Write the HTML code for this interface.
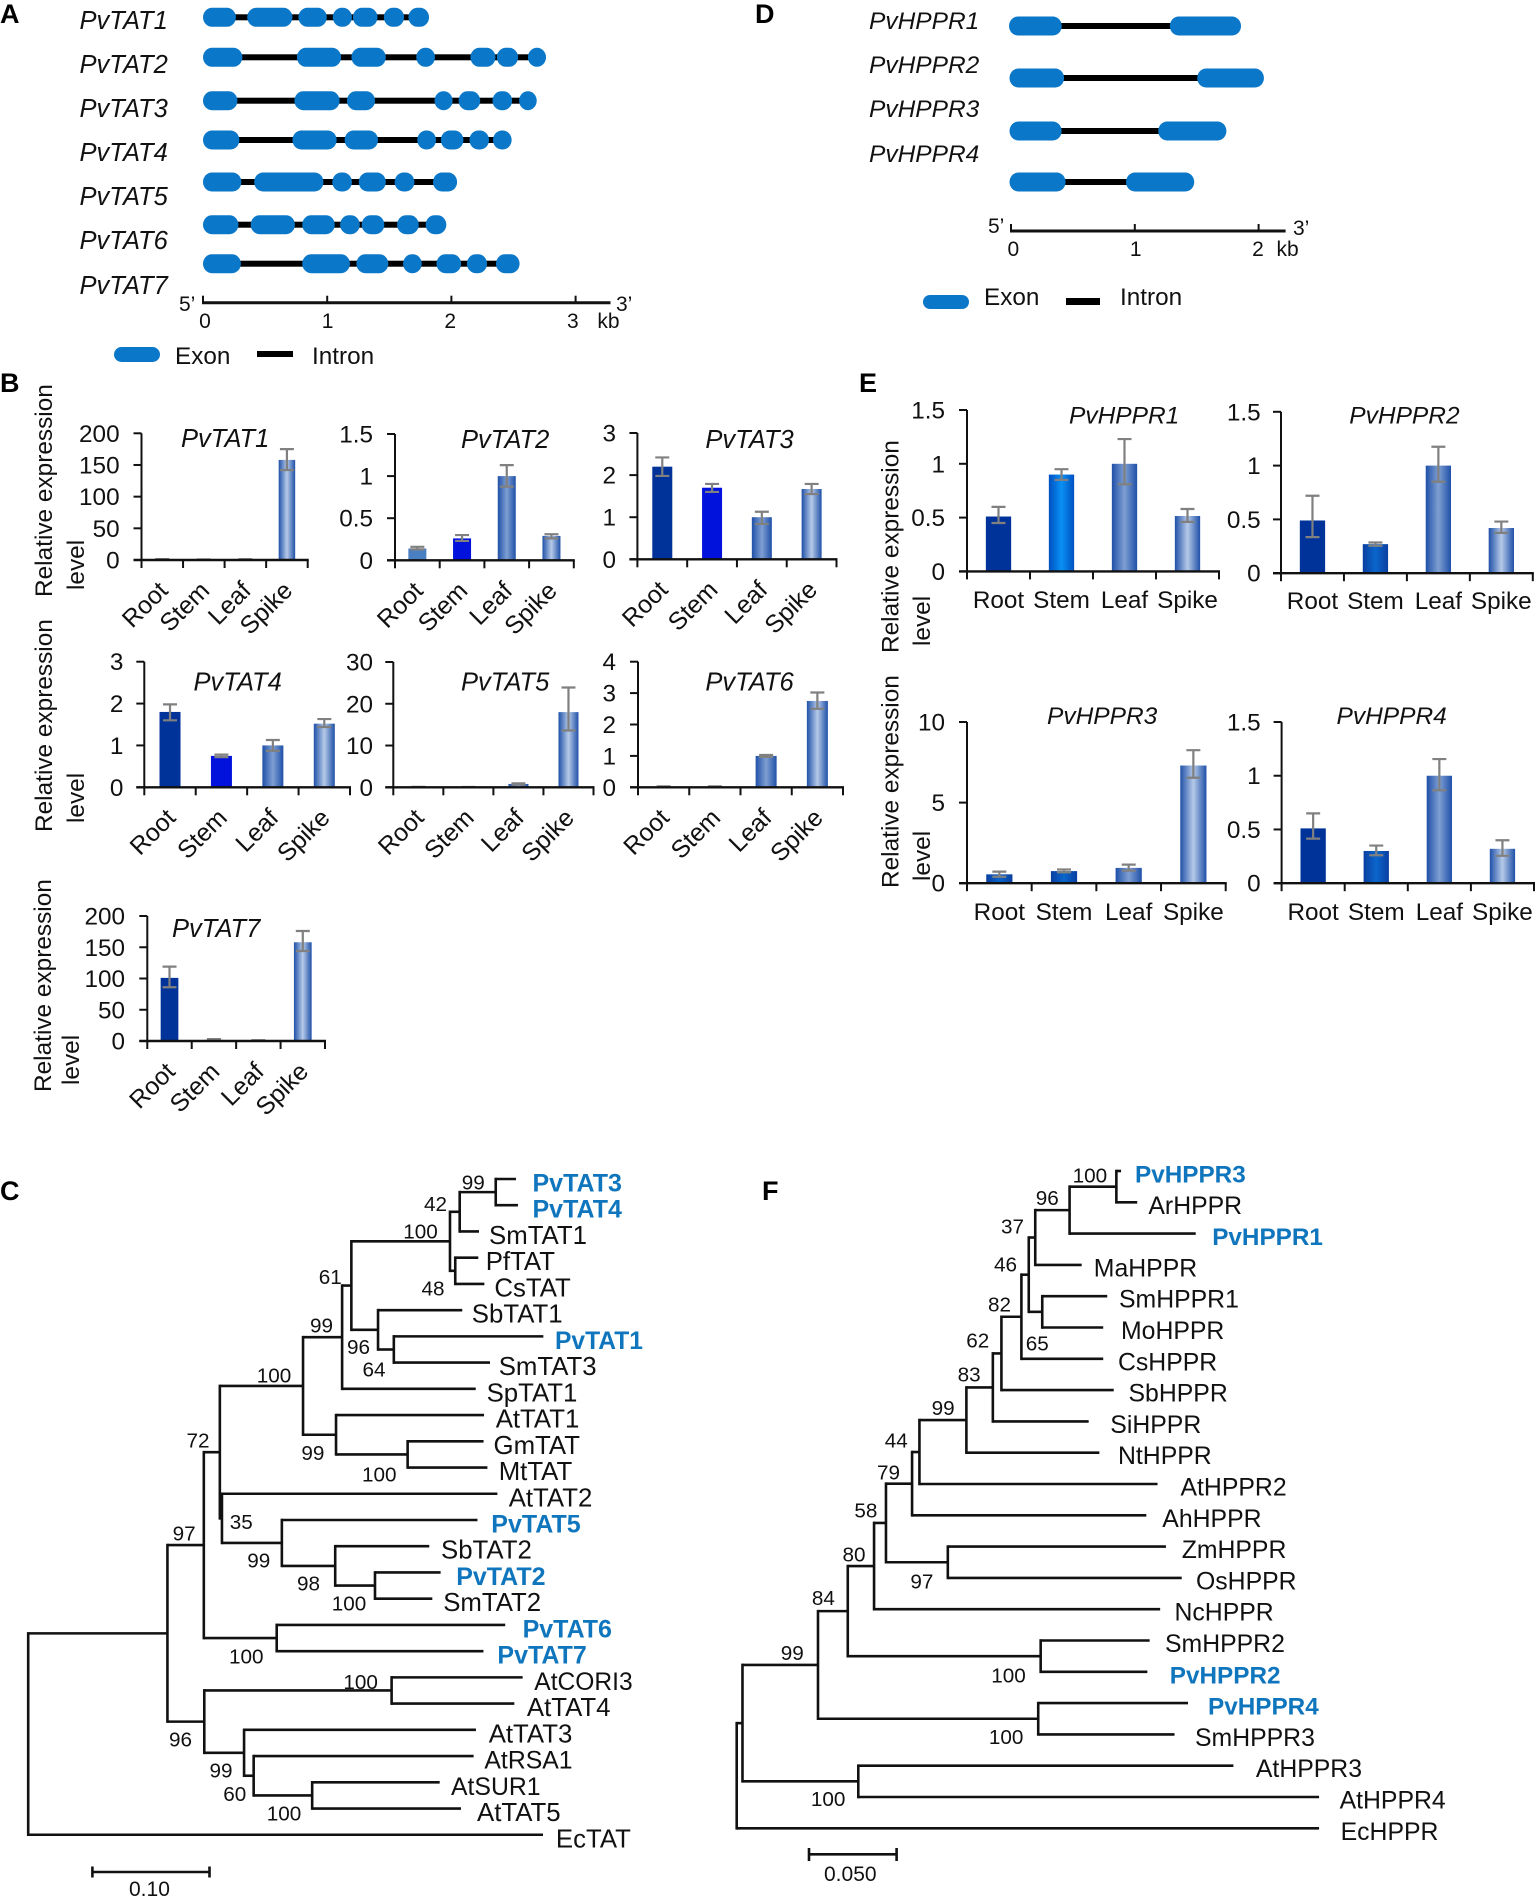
<!DOCTYPE html>
<html lang="en">
<head>
<meta charset="utf-8">
<title>PvTAT and PvHPPR gene structure, expression and phylogeny</title>
<style>
html,body{margin:0;padding:0;background:#fff;}
svg{display:block;position:absolute;left:0;top:0;}
text{font-family:"Liberation Sans",Arial,sans-serif;fill:#111;}
.letter{font-size:27px;font-weight:bold;fill:#000;}
.gene{font-size:25.5px;font-style:italic;}
.gene-h{font-size:24.5px;font-style:italic;}
.lab{font-size:24.3px;}
.ytitle{font-size:24.4px;}
.rotlab{font-size:24.8px;}
.small{font-size:21px;}
.sup{font-size:20.7px;}
</style>
</head>
<body>
<svg id="figure" xmlns="http://www.w3.org/2000/svg" width="1535" height="1897" viewBox="0 0 1535 1897">
<defs>
<linearGradient id="gradMid" x1="0" x2="1" y1="0" y2="0"><stop offset="0" stop-color="#1f50a8"/><stop offset=".5" stop-color="#7f9fd2"/><stop offset="1" stop-color="#1f50a8"/></linearGradient>
<linearGradient id="gradLight" x1="0" x2="1" y1="0" y2="0"><stop offset="0" stop-color="#1f50a8"/><stop offset=".5" stop-color="#b6cae8"/><stop offset="1" stop-color="#1f50a8"/></linearGradient>
<linearGradient id="gradAzure" x1="0" x2="1" y1="0" y2="0"><stop offset="0" stop-color="#0050c0"/><stop offset=".5" stop-color="#0a90f4"/><stop offset="1" stop-color="#0050c0"/></linearGradient>
<linearGradient id="gradRoyal" x1="0" x2="1" y1="0" y2="0"><stop offset="0" stop-color="#0a3fa0"/><stop offset=".5" stop-color="#0a66cc"/><stop offset="1" stop-color="#0a3fa0"/></linearGradient>
</defs>
<g>
<text class="letter" x="0" y="23">A</text>
<text class="letter" x="755" y="23">D</text>
<text class="letter" x="0" y="392">B</text>
<text class="letter" x="859" y="392">E</text>
<text class="letter" x="0" y="1200">C</text>
<text class="letter" x="762" y="1200">F</text>
</g>
<g>
<rect x="114" y="347" width="46" height="15" rx="7.5" fill="#0a77c8"/>
<text class="lab" x="175" y="364">Exon</text>
<rect x="257" y="351" width="36" height="6" fill="#000"/>
<text class="lab" x="312" y="364">Intron</text>
</g>
<g>
<rect x="923" y="295" width="46" height="14" rx="7" fill="#0a77c8"/>
<text class="lab" x="984" y="305">Exon</text>
<rect x="1066" y="298" width="34" height="7" fill="#000"/>
<text class="lab" x="1120" y="305">Intron</text>
</g>
<g>
<text class="ytitle" transform="translate(52,597) rotate(-90)">Relative expression</text>
<text class="ytitle" transform="translate(84,590) rotate(-90)">level</text>
<text class="ytitle" transform="translate(52,832) rotate(-90)">Relative expression</text>
<text class="ytitle" transform="translate(84,823) rotate(-90)">level</text>
<text class="ytitle" transform="translate(51,1092) rotate(-90)">Relative expression</text>
<text class="ytitle" transform="translate(79,1085) rotate(-90)">level</text>
<text class="ytitle" transform="translate(898.5,653) rotate(-90)">Relative expression</text>
<text class="ytitle" transform="translate(930,646) rotate(-90)">level</text>
<text class="ytitle" transform="translate(898.5,888) rotate(-90)">Relative expression</text>
<text class="ytitle" transform="translate(930,881) rotate(-90)">level</text>
</g>
<g>
<path d="M92.4 1872H209.5M92.4 1866.5V1877.5M209.5 1866.5V1877.5" stroke="#111" stroke-width="2.6" fill="none"/>
<text class="small" x="129" y="1896">0.10</text>
</g>
<g>
<path d="M809 1854.3H896.6M809 1848V1861M896.6 1848V1861" stroke="#111" stroke-width="2.6" fill="none"/>
<text class="small" x="824" y="1881">0.050</text>
</g>
</svg>
<script>
// ---------- Gene structure data (exon start / end in kb) ----------
const tatGeneNames = ['PvTAT1','PvTAT2','PvTAT3','PvTAT4','PvTAT5','PvTAT6','PvTAT7'];
const tatGeneExons = [
  [[0,.265],[.356,.72],[.768,.997],[1.045,1.199],[1.207,1.405],[1.456,1.619],[1.654,1.82]],
  [[0,.317],[.756,1.112],[1.195,1.472],[1.717,1.868],[2.153,2.355],[2.366,2.537],[2.616,2.762]],
  [[0,.277],[.736,1.1],[1.159,1.385],[1.864,2.01],[2.058,2.232],[2.331,2.489],[2.545,2.687]],
  [[0,.293],[.72,1.076],[1.14,1.409],[1.725,1.876],[1.915,2.097],[2.145,2.303],[2.335,2.485]],
  [[0,.309],[.412,.97],[1.041,1.199],[1.254,1.472],[1.543,1.702],[1.852,2.046]],
  [[0,.285],[.384,.74],[.799,1.061],[1.104,1.262],[1.278,1.46],[1.563,1.737],[1.793,1.959]],
  [[0,.305],[.799,1.183],[1.235,1.492],[1.611,1.761],[1.88,2.078],[2.125,2.287],[2.359,2.549]]
];
const tatScaleTicks = [0,1,2,3];
const hpprGeneNames = ['PvHPPR1','PvHPPR2','PvHPPR3','PvHPPR4'];
const hpprGeneExons = [
  [[-.016,.41],[1.283,1.858]],
  [[-.012,.429],[1.504,2.043]],
  [[-.012,.409],[1.189,1.74]],
  [[-.012,.441],[.929,1.48]]
];
const hpprScaleTicks = [0,1,2];

// ---------- Expression data ----------
const categories = ['Root','Stem','Leaf','Spike'];
const tat1Ticks = [200,150,100,50,0];
const tat1Values = [1,.5,.8,158];
const tat1High = [1.5,.8,1.2,175];
const tat1Low = [.5,.2,.4,142];
const tat2Ticks = [1.5,1,0.5,0];
const tat2Values = [.14,.26,1,.29];
const tat2High = [.16,.30,1.13,.31];
const tat2Low = [.13,.23,.875,.26];
const tat3Ticks = [3,2,1,0];
const tat3Values = [2.2,1.7,1,1.67];
const tat3High = [2.42,1.79,1.13,1.79];
const tat3Low = [1.98,1.6,.84,1.55];
const tat4Ticks = [3,2,1,0];
const tat4Values = [1.8,.75,1,1.52];
const tat4High = [1.98,.78,1.13,1.63];
const tat4Low = [1.6,.72,.87,1.44];
const tat5Ticks = [30,20,10,0];
const tat5Values = [.1,.05,.8,18];
const tat5High = [.12,.07,.95,23.9];
const tat5Low = [.08,.03,.65,13.6];
const tat6Ticks = [4,3,2,1,0];
const tat6Values = [.02,.02,1,2.75];
const tat6High = [.03,.03,1.03,3.02];
const tat6Low = [.01,.01,.97,2.5];
const tat7Ticks = [200,150,100,50,0];
const tat7Values = [101,2,.8,158];
const tat7High = [119,3,1.2,176];
const tat7Low = [86,1,.4,144];
const hppr1Ticks = [1.5,1,0.5,0];
const hppr1Values = [.51,.9,1,.515];
const hppr1High = [.6,.95,1.23,.58];
const hppr1Low = [.45,.85,.81,.46];
const hppr2Ticks = [1.5,1,0.5,0];
const hppr2Values = [.49,.27,1,.42];
const hppr2High = [.72,.285,1.175,.48];
const hppr2Low = [.335,.255,.85,.375];
const hppr3Ticks = [10,5,0];
const hppr3Values = [.55,.75,.95,7.3];
const hppr3High = [.72,.85,1.15,8.25];
const hppr3Low = [.4,.68,.78,6.54];
const hppr4Ticks = [1.5,1,0.5,0];
const hppr4Values = [.51,.3,1,.32];
const hppr4High = [.65,.35,1.155,.4];
const hppr4Low = [.415,.26,.865,.255];

// ---------- Phylogeny data: internal node = [distance, childA, childB], leaf = [name, distance] ----------
const treeC = [0,
  [.119,
    [.1501,
      [.1638,
        [.2349,
          [.2683,
            [.2762,
              [.3605,
                [.3688,[.3996,['PvTAT3',.4169],['PvTAT4',.4186]],['SmTAT1',.3853]],
                [.365,['PfTAT',.3847],['CsTAT',.3899]]],
              [.299,['SbTAT1',.371],[.3125,['PvTAT1',.4403],['SmTAT3',.3947]]]],
            ['SpTAT1',.3825]],
          [.2631,['AtTAT1',.3896],[.3243,['GmTAT',.3892],['MtTAT',.3925]]]],
        [.1656,['AtTAT2',.401],
          [.2168,['PvTAT5',.384],
            [.2624,['SbTAT2',.3428],[.2964,['PvTAT2',.3525],['SmTAT2',.3454]]]]]],
      [.2124,['PvTAT6',.4077],['PvTAT7',.3891]]],
    [.1505,
      [.3106,['AtCORI3',.4226],['AtTAT4',.4155]],
      [.1845,['AtTAT3',.3827],
        [.1927,['AtRSA1',.3807],[.2427,['AtSUR1',.3517],['AtTAT5',.3699]]]]]],
  ['EcTAT',.44]];
const treeF = [0,
  [.0033,
    [.0464,
      [.0634,
        [.0784,
          [.0852,
            [.1001,
              [.1043,
                [.1311,
                  [.1462,
                    [.1511,
                      [.1625,
                        [.1667,
                          [.1704,
                            [.19,[.2167,['PvHPPR3',.2194],['ArHPPR',.2286]],['PvHPPR1',.262]],
                            ['MaHPPR',.1969]],
                          [.1744,['SmHPPR1',.2115],['MoHPPR',.2092]]],
                        ['CsHPPR',.2092]],
                      ['SbHPPR',.2152]],
                    ['SiHPPR',.2009]],
                  ['NtHPPR',.207]],
                ['AtHPPR2',.2402]],
              ['AhHPPR',.2338]],
            [.1205,['ZmHPPR',.245],['OsHPPR',.254]]],
          ['NcHPPR',.2417]],
        [.1735,['SmHPPR2',.2357],['PvHPPR2',.2344]]],
      [.1721,['PvHPPR4',.2576],['SmHPPR3',.2499]]],
    [.0694,['AtHPPR3',.2835],['AtHPPR4',.3324]]],
  ['EcHPPR',.3324]];
const treeCSupport = ['99','42','100','48','61','99','96','64','100','72','99','100','35','97','99','98','100','100','100','96','99','60','100'];
const treeFSupport = ['100','96','37','46','82','65','62','83','99','44','79','58','97','80','84','99','100','100','100'];

// ---------- Layout (pixel geometry, no data) ----------
const svg = document.getElementById('figure');
const NS = 'http://www.w3.org/2000/svg';
const geneRowsTat = [17.3,57.3,100.7,140,182,224.7,263.7];
const geneLabelBaseTat = [29,73,117,161,205,249,294];
const geneRowsHppr = [26,78,131,182];
const geneLabelBaseHppr = [29,73,117,162];
const treeCLabelLeft = {PvTAT3:532.5,PvTAT4:532.5,SmTAT1:489,PfTAT:485.7,CsTAT:494.4,SbTAT1:471.8,PvTAT1:555,SmTAT3:498.7,SpTAT1:486.6,AtTAT1:495.7,GmTAT:493.5,MtTAT:498.7,AtTAT2:508.7,PvTAT5:491.3,SbTAT2:441,PvTAT2:456.2,SmTAT2:443.2,PvTAT6:522.6,PvTAT7:497.4,AtCORI3:534.3,AtTAT4:526.9,AtTAT3:488.7,AtRSA1:484.4,AtSUR1:451,AtTAT5:477,EcTAT:555.9};
const treeFLabelLeft = {PvHPPR3:1135,ArHPPR:1148.4,PvHPPR1:1212.2,MaHPPR:1093.8,SmHPPR1:1119,MoHPPR:1121,CsHPPR:1118,SbHPPR:1128.5,SiHPPR:1110.3,NtHPPR:1118,AtHPPR2:1180.5,AhHPPR:1162.3,ZmHPPR:1181.7,OsHPPR:1196,NcHPPR:1174.5,SmHPPR2:1165,PvHPPR2:1169.8,PvHPPR4:1208,SmHPPR3:1195,AtHPPR3:1255.9,AtHPPR4:1339.6,EcHPPR:1340.6};
const labelSizeOverride = {AtCORI3:24.6, AtRSA1:24.8, AtSUR1:24.8, PvTAT1:24.6};
const treeCSupportPos = [[461.8,1189.3],[424,1211],[403.3,1238.3],[421.5,1295.7],[318.7,1284],[310,1332.7],[347,1354],[362.5,1376.7],[256.7,1382.3],[186.5,1447.3],[301.4,1460],[362,1481.7],[229.8,1529],[172.6,1540.7],[247.2,1567.7],[297,1590.7],[331.7,1610.7],[229,1663.3],[343.4,1689],[169,1746.7],[209.5,1777.7],[223.3,1801],[266.7,1820.7]];
const treeFSupportPos = [[1072.6,1182.3],[1035.7,1205],[1001,1233.3],[994,1271.7],[988,1311.7],[1025.7,1350.7],[966.3,1347.7],[957.6,1381.7],[931.6,1415],[884.8,1447.7],[877,1479.3],[854.4,1517.7],[910.4,1588.3],[842.5,1561.7],[811.9,1605],[780.8,1660],[991.3,1682.3],[988.9,1744],[810.9,1806]];

function mk(tag, attrs, parent) {
  const el = document.createElementNS(NS, tag);
  for (const k in attrs) el.setAttribute(k, attrs[k]);
  parent.appendChild(el);
  return el;
}
function txt(content, attrs, parent) {
  const el = mk('text', attrs, parent);
  el.textContent = content;
  return el;
}

// ---------- Gene structure diagrams ----------
function drawGenes(names, exonSets, rows, labelBase, labelX, labelClass, x0, pxPerKb, axisY, axisEnd, ticks, tickLabelX, kbX, kbBase, fivePrime, threePrime, prefix) {
  const xKb = kb => x0 + kb * pxPerKb;
  const root = mk('g', {}, svg);
  
  
  names.forEach((name, i) => {
    const g = mk('g', {}, root);
    
    
    const label = txt(name, {class:labelClass, x:labelX, y:labelBase[i]}, g);
    
    
    const exons = exonSets[i];
    const intron = mk('rect', {x:xKb(exons[0][0]) + 4, y:rows[i] - 3, width:xKb(exons[exons.length - 1][1]) - xKb(exons[0][0]) - 8, height:6, fill:'#000'}, g);
    
    
    exons.forEach(e => {
      const w = xKb(e[1]) - xKb(e[0]);
      const ex = mk('rect', {x:xKb(e[0]), y:rows[i] - 9.5, width:w, height:19, rx:Math.min(w / 2, 9), ry:9.5, fill:'#0a77c8'}, g);
      
      
    });
  });
  const axis = mk('g', {}, root);
  
  
  const base = mk('line', {x1:x0 - 1, x2:axisEnd, y1:axisY, y2:axisY, stroke:'#111', 'stroke-width':3}, axis);
  
  
  ticks.forEach((t, i) => {
    const tick = mk('line', {x1:xKb(t), x2:xKb(t), y1:axisY - 7, y2:axisY, stroke:'#111', 'stroke-width':2}, axis);
    
    
    const tl = txt(String(t), {class:'small', x:tickLabelX(t), y:kbBase, 'text-anchor':'middle'}, axis);
    
    
  });
  const kb = txt('kb', {class:'small', x:kbX, y:kbBase, 'text-anchor':'middle'}, axis);
  
  
  const five = txt('5\u2019', {class:'small', x:fivePrime[0], y:fivePrime[1]}, axis);
  
  
  const three = txt('3\u2019', {class:'small', x:threePrime[0], y:threePrime[1]}, axis);
  
  
}
drawGenes(tatGeneNames, tatGeneExons, geneRowsTat, geneLabelBaseTat, 79.5, 'gene', 203, 124.2, 302.7, 610.5, tatScaleTicks, t => 205 + t * 122.6, 608.5, 328, [179,311], [616,311], 'tat');
drawGenes(hpprGeneNames, hpprGeneExons, geneRowsHppr, geneLabelBaseHppr, 869, 'gene-h', 1011, 123.8, 231, 1285.6, hpprScaleTicks, t => 1013.4 + t * 122.3, 1287.6, 256, [988,233], [1293,235], 'hppr');

// ---------- Bar charts ----------
const fills = {navy:'#00339a', blue:'#0012dc', steel:'#4a80c2', mid:'url(#gradMid)', light:'url(#gradLight)', azure:'url(#gradAzure)', royal:'url(#gradRoyal)'};
const charts = [
  {id:'PvTAT1',ticks:tat1Ticks,vals:tat1Values,hi:tat1High,lo:tat1Low,l:141.5,r:307.7,t:433.3,b:560,bw:16.5,lab:119.6,tx:181,ty:447,rot:true,st:['navy','blue','mid','light']},
  {id:'PvTAT2',ticks:tat2Ticks,vals:tat2Values,hi:tat2High,lo:tat2Low,l:395,r:573.8,t:434,b:560.3,bw:18,lab:373,tx:461,ty:448,rot:true,st:['steel','blue','mid','light']},
  {id:'PvTAT3',ticks:tat3Ticks,vals:tat3Values,hi:tat3High,lo:tat3Low,l:637.4,r:836.5,t:433,b:559.3,bw:20,lab:616,tx:705.4,ty:448,rot:true,st:['navy','blue','mid','light']},
  {id:'PvTAT4',ticks:tat4Ticks,vals:tat4Values,hi:tat4High,lo:tat4Low,l:144.3,r:350,t:661.7,b:787.3,bw:21,lab:123.4,tx:193.5,ty:690.7,rot:true,st:['navy','blue','mid','light']},
  {id:'PvTAT5',ticks:tat5Ticks,vals:tat5Values,hi:tat5High,lo:tat5Low,l:393.3,r:593.5,t:662,b:787.3,bw:20,lab:373,tx:461,ty:690.7,rot:true,st:['navy','blue','mid','light']},
  {id:'PvTAT6',ticks:tat6Ticks,vals:tat6Values,hi:tat6High,lo:tat6Low,l:638,r:843,t:661.7,b:787.3,bw:21,lab:616,tx:705.4,ty:690.7,rot:true,st:['navy','blue','mid','light']},
  {id:'PvTAT7',ticks:tat7Ticks,vals:tat7Values,hi:tat7High,lo:tat7Low,l:147.3,r:325,t:916,b:1041,bw:17.7,lab:125,tx:172,ty:937,rot:true,st:['navy','steel','mid','light']},
  {id:'PvHPPR1',ticks:hppr1Ticks,vals:hppr1Values,hi:hppr1High,lo:hppr1Low,l:967,r:1219,t:410,b:571.4,bw:25.3,lab:945,tx:1069,ty:423.6,catY:608,st:['navy','azure','mid','light']},
  {id:'PvHPPR2',ticks:hppr2Ticks,vals:hppr2Values,hi:hppr2High,lo:hppr2Low,l:1281,r:1532.8,t:411.8,b:573.2,bw:25.3,lab:1260.7,tx:1349.3,ty:423.6,catY:609,st:['navy','royal','mid','light']},
  {id:'PvHPPR3',ticks:hppr3Ticks,vals:hppr3Values,hi:hppr3High,lo:hppr3Low,l:967,r:1225.7,t:722,b:883.2,bw:26.2,lab:945,tx:1047,ty:724,catY:920,st:['royal','royal','mid','light']},
  {id:'PvHPPR4',ticks:hppr4Ticks,vals:hppr4Values,hi:hppr4High,lo:hppr4Low,l:1281.6,r:1534,t:722,b:883.2,bw:25.3,lab:1260.7,tx:1336.5,ty:724,catY:920,st:['navy','royal','mid','light']}
];
function drawChart(c) {
  const maxV = c.ticks[0];
  const yOf = v => c.b - (v / maxV) * (c.b - c.t);
  const band = (c.r - c.l) / categories.length;
  const xOf = i => c.l + band * (i + .5);
  const g = mk('g', {}, svg);
  
  
  const title = txt(c.id, {class:c.rot ? 'gene' : 'gene-h', x:c.tx, y:c.ty}, g);
  
  
  c.vals.forEach((v, i) => {
    const bar = mk('rect', {x:xOf(i) - c.bw / 2, y:yOf(v), width:c.bw, height:c.b - yOf(v), fill:fills[c.st[i]]}, g);
    
    
  });
  c.vals.forEach((v, i) => {
    const cap = 7;
    const err = mk('path', {d:'M' + (xOf(i) - cap) + ' ' + yOf(c.hi[i]) + 'H' + (xOf(i) + cap) + 'M' + xOf(i) + ' ' + yOf(c.hi[i]) + 'V' + yOf(c.lo[i]) + 'M' + (xOf(i) - cap) + ' ' + yOf(c.lo[i]) + 'H' + (xOf(i) + cap), stroke:'#808080', 'stroke-width':2.2, fill:'none'}, g);
    
    
  });
  const yAxis = mk('line', {x1:c.l, x2:c.l, y1:c.t, y2:c.b, stroke:'#111', 'stroke-width':2}, g);
  
  
  const xAxis = mk('line', {x1:c.l - 8, x2:c.r + 1, y1:c.b, y2:c.b, stroke:'#111', 'stroke-width':2.4}, g);
  
  
  c.ticks.forEach(t => {
    const tk = mk('line', {x1:c.l - 8, x2:c.l, y1:yOf(t), y2:yOf(t), stroke:'#111', 'stroke-width':2}, g);
    
    
    const tl = txt(String(t), {class:'lab', x:c.lab, y:yOf(t) + 8.5, 'text-anchor':'end'}, g);
    
    
  });
  for (let i = 0; i <= categories.length; i++) {
    const xt = c.l + band * i;
    const tk = mk('line', {x1:xt, x2:xt, y1:c.b, y2:c.b + 8, stroke:'#111', 'stroke-width':2}, g);
    
    
  }
  categories.forEach((name, i) => {
    let cat;
    if (c.rot) {
      const ex = xOf(i) + 7, ey = c.b + 32;
      cat = txt(name, {class:'rotlab', x:ex, y:ey, 'text-anchor':'end', transform:'rotate(-45 ' + ex + ' ' + ey + ')'}, g);
    } else {
      cat = txt(name, {class:'lab', x:xOf(i), y:c.catY, 'text-anchor':'middle'}, g);
    }
    
    
  });
}
charts.forEach(drawChart);

// ---------- Phylogenetic trees ----------
function drawTree(tree, x0, pxPerUnit, rowY0, rowStep, labelLeft, baseOffset, plainSize, boldSize, support, supportPos, prefix) {
  const xOf = d => x0 + d * pxPerUnit;
  const g = mk('g', {}, svg);
  
  
  let row = 0;
  function walk(node, parentX) {
    let y, x;
    if (typeof node[0] === 'string') {
      const name = node[0];
      y = rowY0 + rowStep * row;
      row += 1;
      x = xOf(node[1]);
      const isPv = name.indexOf('Pv') === 0;
      const lab = txt(name, {x:labelLeft[name], y:y + baseOffset}, g);
      lab.style.fontSize = (labelSizeOverride[name] || (isPv ? boldSize : plainSize)) + 'px';
      if (isPv) {
        lab.setAttribute('font-weight', 'bold');
        lab.style.fill = '#0f75bd';
      }
      
      
    } else {
      x = xOf(node[0]);
      const ya = walk(node[1], x);
      const yb = walk(node[2], x);
      y = (ya + yb) / 2;
      const v = mk('line', {x1:x, x2:x, y1:ya, y2:yb, stroke:'#111', 'stroke-width':2.6, 'stroke-linecap':'square'}, g);
      
      
    }
    if (parentX !== null) {
      const h = mk('line', {x1:parentX, x2:x, y1:y, y2:y, stroke:'#111', 'stroke-width':2.6}, g);
      
      
    }
    return y;
  }
  walk(tree, null);
  support.forEach((s, i) => {
    const st = txt(s, {class:'sup', x:supportPos[i][0], y:supportPos[i][1]}, g);
    
    
  });
}
drawTree(treeC, 28.2, 1170, 1179, 26.23, treeCLabelLeft, 12.5, 25.8, 25, treeCSupport, treeCSupportPos, 'tat');
drawTree(treeF, 736.7, 1752, 1171, 31.3, treeFLabelLeft, 11.5, 24.8, 24.3, treeFSupport, treeFSupportPos, 'hppr');
</script>
</body>
</html>
